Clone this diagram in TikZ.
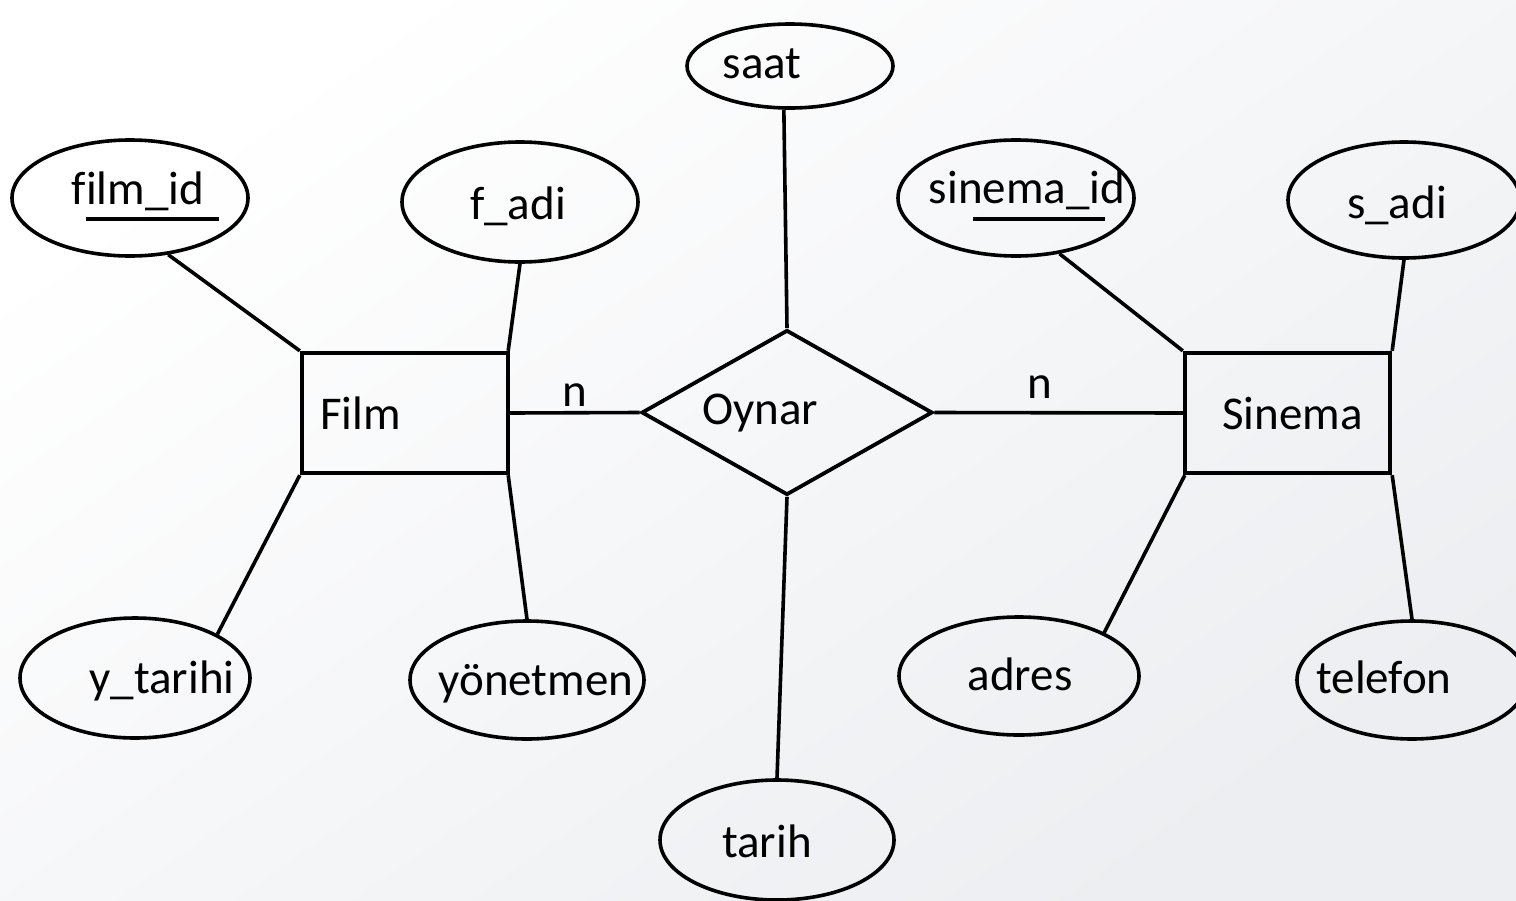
\documentclass[tikz,border=0pt]{standalone}
\usepackage{fontspec}
\setmainfont[Ligatures=NoCommon]{Carlito}
\usetikzlibrary{shapes.geometric}
\definecolor{bgfade}{RGB}{236,238,241}
\begin{document}
\begin{tikzpicture}[x=1pt,y=-1pt,
  entity/.style={draw,line width=4.4pt,rectangle,inner sep=0pt},
  relation/.style={draw,line width=3.8pt,diamond,inner sep=0pt,aspect=1.75},
  attr/.style={draw,line width=3.6pt,ellipse,inner sep=0pt},
  txt/.style={anchor=base,inner sep=0pt,font=\fontsize{47}{56}\selectfont},
  link/.style={line width=3.6pt},
  keyline/.style={line width=3.4pt}]
  % page and soft background
  \useasboundingbox (0,0) rectangle (1516,900);
  \shade[top color=white,bottom color=bgfade,shading angle=35] (0,0) rectangle (1516,900);

  % entities and relationship
  \node[entity,minimum width=206pt,minimum height=120pt] (film) at (405,413) {};
  \node[entity,minimum width=205pt,minimum height=120pt] (sinema) at (1287.5,413) {};
  \node[relation,minimum width=291pt,minimum height=165pt] (oynar) at (787,412.5) {};
  \node[txt,anchor=base west] (filmT) at (320,429) {Film};
  \node[txt,anchor=base west] (sinemaT) at (1222,429) {Sinema};
  \node[txt] (oynarT) at (760,424) {Oynar};

  % attributes
  \node[attr,minimum width=236pt,minimum height=116pt] (filmid) at (130,198) {};
  \node[attr,minimum width=236pt,minimum height=120pt] (fadi) at (520,202) {};
  \node[attr,minimum width=206pt,minimum height=84pt] (saat) at (790,66) {};
  \node[attr,minimum width=236pt,minimum height=116pt] (sinemaid) at (1016,198) {};
  \node[attr,minimum width=232pt,minimum height=116pt] (sadi) at (1404,200) {};
  \node[attr,minimum width=230pt,minimum height=120pt] (ytarihi) at (135,678) {};
  \node[attr,minimum width=234pt,minimum height=118pt] (yonetmen) at (527,680) {};
  \node[attr,minimum width=234pt,minimum height=120pt] (tarih) at (777,840) {};
  \node[attr,minimum width=240pt,minimum height=118pt] (adres) at (1019,676) {};
  \node[attr,minimum width=230pt,minimum height=118pt] (telefon) at (1412,680) {};

  \node[txt] (filmidT) at (138,204) {film\_id};
  \node[txt] (fadiT) at (518,219) {f\_adi};
  \node[txt] (saatT) at (762,78) {saat};
  \node[txt] (sinemaidT) at (1027,203) {sinema\_id};
  \node[txt] (sadiT) at (1397,218) {s\_adi};
  \node[txt] (ytarihiT) at (162,693) {y\_tarihi};
  \node[txt] (yonetmenT) at (536,695) {yönetmen};
  \node[txt] (tarihT) at (767,857) {tarih};
  \node[txt] (adresT) at (1020,690) {adres};
  \node[txt] (telefonT) at (1384,693) {telefon};

  % key attributes are underlined
  \draw[keyline] (86,219) -- (219,219);
  \draw[keyline] (973,219) -- (1105,219);

  % cardinalities
  \node[txt] (n1) at (575,406) {n};
  \node[txt] (n2) at (1040,398) {n};

  % connectors
  \draw[link] (film.east) -- (oynar.west);
  \draw[link] (oynar.east) -- (sinema.west);
  \draw[link] (saat.-98) -- (oynar.north);
  \draw[link] (oynar.south) -- (tarih.north);
  \draw[link] (filmid.-56) -- (film.north west);
  \draw[link] (fadi.south) -- ([xshift=-2pt]film.north east);
  \draw[link] (film.south west) -- (ytarihi.28);
  \draw[link] ([xshift=-2pt]film.south east) -- (yonetmen.north);
  \draw[link] (sinemaid.-52) -- (sinema.north west);
  \draw[link] (sadi.south) -- (sinema.north east);
  \draw[link] ([xshift=2pt]sinema.south west) -- (adres.27);
  \draw[link] (sinema.south east) -- (telefon.north);
\end{tikzpicture}
\end{document}
